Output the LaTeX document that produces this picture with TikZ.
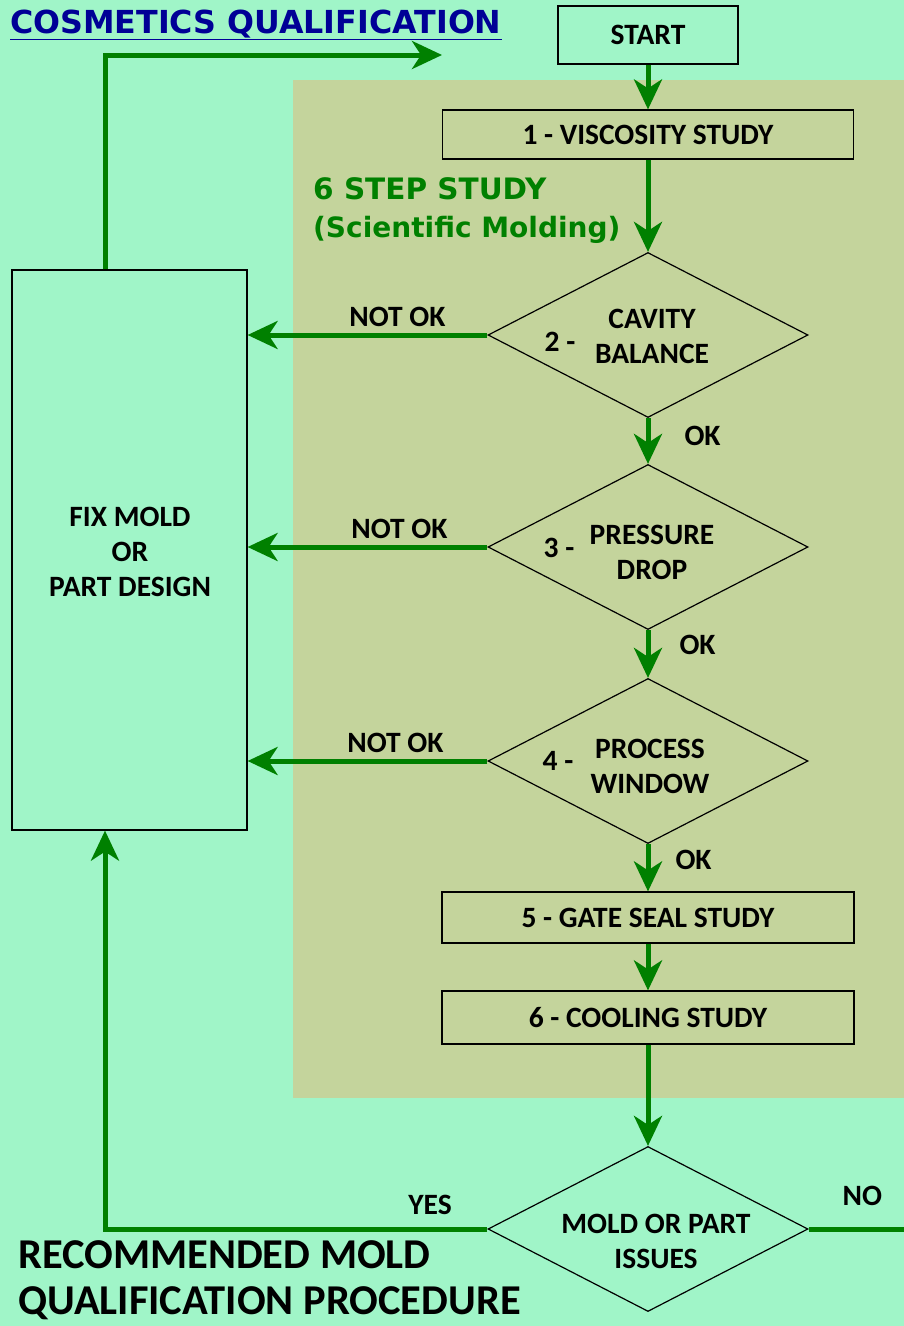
\documentclass[tikz,border=0pt]{standalone}
\usepackage{fontspec}
\setmainfont{Carlito}
\newfontfamily\comicfont{DejaVu Sans}
\usetikzlibrary{positioning, arrows.meta, shapes.geometric}
\definecolor{bgmint}{RGB}{160,245,200}
\definecolor{paneloive}{RGB}{196,212,156}
\definecolor{flowgreen}{RGB}{0,128,0}
\definecolor{titleblue}{RGB}{0,0,150}

\begin{document}
\begin{tikzpicture}[x=1pt, y=-1pt,
  flow/.style = {draw=flowgreen, line width=5pt, -{Stealth[length=30pt, width=28pt, inset=9pt]}},
  stepbox/.style = {draw, line width=1.2pt, inner sep=0pt, font=\bfseries\fontsize{29.5}{35}\selectfont},
  decision/.style = {draw, diamond, line width=1.2pt, inner sep=0pt, minimum width=320pt, minimum height=165pt},
  txt/.style = {font=\bfseries\fontsize{29.5}{35}\selectfont, align=center, inner sep=0pt}]
  \fill[bgmint] (0,0) rectangle (904,1326);
  \useasboundingbox (0,0) rectangle (904,1326);
  \fill[paneloive] (293,80) rectangle (904,1098);

  % boxes and decisions
  \node[stepbox, minimum width=180pt, minimum height=58pt] (start) at (648,35) {START};
  \node[stepbox, minimum width=411pt, minimum height=49pt] (visc) at (648,134.5) {1 - VISCOSITY STUDY};
  \node[decision] (cavity) at (648,335) {};
  \node[decision] (pressure) at (648,547) {};
  \node[decision] (window) at (648,761) {};
  \node[stepbox, minimum width=412pt, minimum height=51pt] (gate) at (648,917.5) {5 - GATE SEAL STUDY};
  \node[stepbox, minimum width=412pt, minimum height=53pt] (cooling) at (648,1017.5) {6 - COOLING STUDY};
  \node[decision] (issues) at (648,1229) {};
  \node[draw, line width=1.2pt, minimum width=235pt, minimum height=560pt, inner sep=0pt] (fix) at (129.5,550) {};

  % texts
  \node[txt] (cavitytxt) at (652,336) {CAVITY\\BALANCE};
  \node[txt] (cavitynum) at (560,342) {2 -};
  \node[txt] (pressuretxt) at (652,552) {PRESSURE\\DROP};
  \node[txt] (pressurenum) at (559,548) {3 -};
  \node[txt] (windowtxt) at (650,766) {PROCESS\\WINDOW};
  \node[txt] (windownum) at (558,761) {4 -};
  \node[txt] (issuestxt) at (656,1241) {MOLD OR PART\\ISSUES};
  \node[txt] (fixtxt) at (130,552) {FIX MOLD\\OR\\PART DESIGN};

  \node[font=\comicfont\bfseries\fontsize{31.7}{32}\selectfont, text=titleblue, anchor=base west, inner sep=0pt] (title) at (10,33) {\underline{COSMETICS QUALIFICATION}};
  \node[font=\comicfont\bfseries\fontsize{29.5}{38}\selectfont, text=flowgreen, anchor=base west, inner sep=0pt] (sixstep) at (313,199) {6 STEP STUDY};
  \node[font=\comicfont\bfseries\fontsize{28}{38}\selectfont, text=flowgreen, anchor=base west, inner sep=0pt] (sci) at (313,237) {(Scientific Molding)};
  \node[font=\bfseries\fontsize{42.5}{42.5}\selectfont, anchor=base west, inner sep=0pt] (rec1) at (18,1268) {RECOMMENDED MOLD};
  \node[font=\bfseries\fontsize{42.5}{42.5}\selectfont, anchor=base west, inner sep=0pt] (rec2) at (18,1314) {QUALIFICATION PROCEDURE};

  % flow arrows
  \draw[flow] (start) -- (visc);
  \draw[flow] (visc) -- (cavity);
  \draw[flow] (cavity) -- node[txt, right=34pt, yshift=5pt] (ok1) {OK} (pressure);
  \draw[flow] (pressure) -- node[txt, right=29pt, yshift=9pt] (ok2) {OK} (window);
  \draw[flow] (window) -- node[txt, right=25pt, yshift=8pt] (ok3) {OK} (gate);
  \draw[flow] (gate) -- (cooling);
  \draw[flow] (cooling) -- (issues);

  \draw[flow] (cavity.west) -- node[txt, above=6pt, xshift=30pt] (nok1) {NOT OK} (cavity.west -| fix.east);
  \draw[flow] (pressure.west) -- node[txt, above=6pt, xshift=32pt] (nok2) {NOT OK} (pressure.west -| fix.east);
  \draw[flow] (window.west) -- node[txt, above=6pt, xshift=28pt] (nok3) {NOT OK} (window.west -| fix.east);

  \coordinate (loopx) at (105,0);
  \coordinate (topend) at (442,55);
  \coordinate (noend) at (904,1229);
  \draw[flow] (fix.north -| loopx) |- (topend);
  \draw[flow] (issues.west) -- node[txt, pos=0.15, above=12pt] (yes) {YES} (issues.west -| loopx) -- (fix.south -| loopx);
  \draw[draw=flowgreen, line width=5pt] (issues.east) -- node[txt, above=21pt, xshift=6pt] (no) {NO} (noend);
\end{tikzpicture}
\end{document}
